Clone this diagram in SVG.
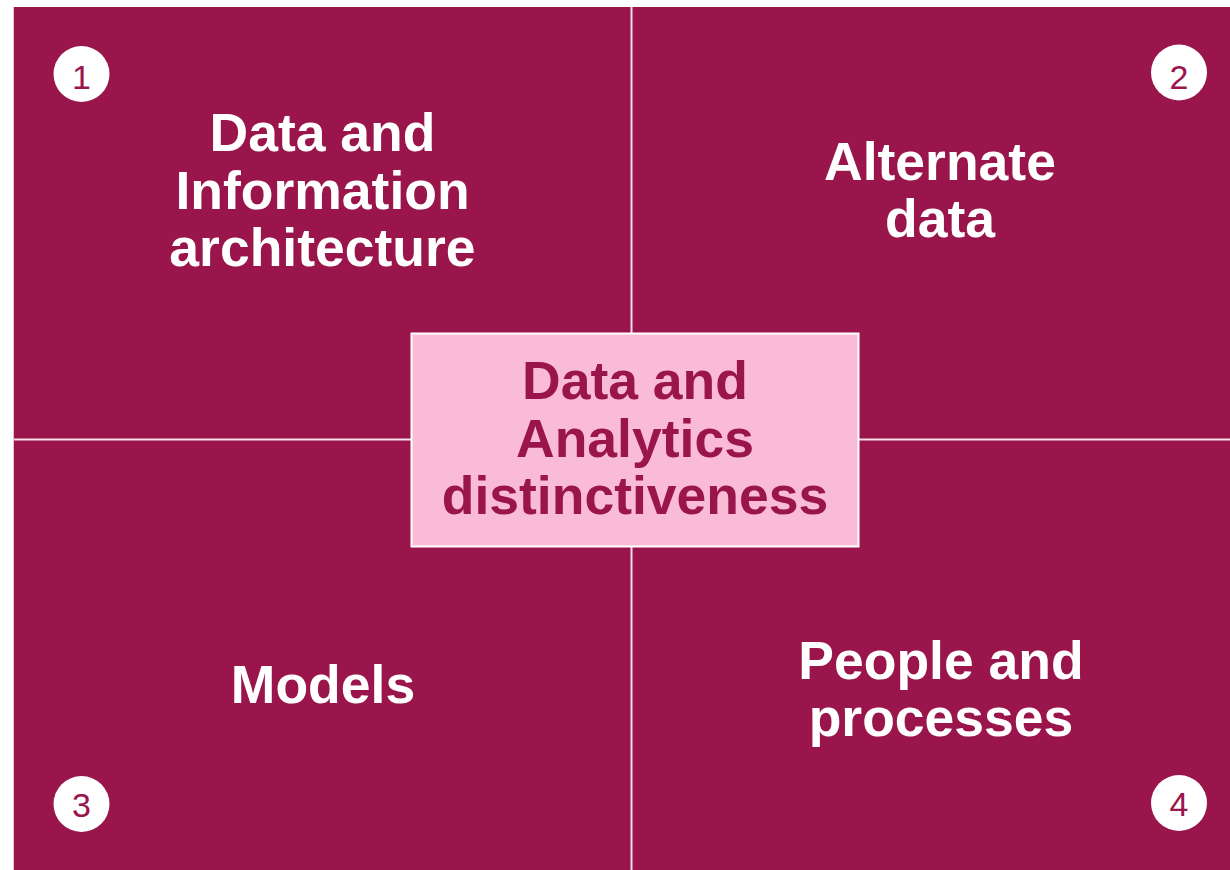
<svg xmlns="http://www.w3.org/2000/svg" width="1230" height="870" viewBox="0 0 1230 870">
  <style>
    .quad { fill: #99154B; }
    .div { stroke: #F6E0EA; stroke-width: 2; fill: none; }
    .title { font-family: "Liberation Sans", Arial, sans-serif; font-weight: bold; font-size: 53.5px; fill: #FFFFFF; text-anchor: middle; }
    .ctitle { font-family: "Liberation Sans", Arial, sans-serif; font-weight: bold; font-size: 53.5px; fill: #99154B; text-anchor: middle; }
    .badge circle { fill: #FFFFFF; }
    .badge text { font-family: "Liberation Sans", Arial, sans-serif; font-size: 34px; fill: #99154B; text-anchor: middle; }
  </style>
  <rect x="0" y="0" width="1230" height="870" fill="#FFFFFF"/>
  <g id="background">
    <rect class="quad" x="13" y="7" width="1217" height="863"/>
    <line x1="13.5" y1="7" x2="13.5" y2="870" stroke="#E6C3D2" stroke-width="1"/>
  </g>
  <g id="connectors">
    <line class="div" x1="631.5" y1="7" x2="631.5" y2="333"/>
    <line class="div" x1="631.5" y1="547" x2="631.5" y2="870"/>
    <line class="div" x1="14" y1="439.5" x2="411" y2="439.5"/>
    <line class="div" x1="859" y1="439.5" x2="1230" y2="439.5"/>
  </g>
  <g id="q1">
    <text class="title"><tspan x="322.5" y="151">Data and</tspan><tspan x="322.5" y="209">Information</tspan><tspan x="322.5" y="266">architecture</tspan></text>
    <g class="badge"><circle cx="81.5" cy="74" r="28"/><text x="81.5" y="89">1</text></g>
  </g>
  <g id="q2">
    <text class="title"><tspan x="940" y="180">Alternate</tspan><tspan x="940" y="237">data</tspan></text>
    <g class="badge"><circle cx="1179" cy="72.5" r="28"/><text x="1179" y="89">2</text></g>
  </g>
  <g id="q3">
    <text class="title" x="323" y="703">Models</text>
    <g class="badge"><circle cx="81.5" cy="804" r="28"/><text x="81.5" y="817">3</text></g>
  </g>
  <g id="q4">
    <text class="title"><tspan x="941" y="679">People and</tspan><tspan x="941" y="736">processes</tspan></text>
    <g class="badge"><circle cx="1179" cy="803" r="28"/><text x="1179" y="816">4</text></g>
  </g>
  <g id="center">
    <rect x="411.5" y="333.5" width="447" height="213" fill="#F9BBD6" stroke="#FFFFFF" stroke-width="2"/>
    <text class="ctitle"><tspan x="635" y="399">Data and</tspan><tspan x="635" y="457">Analytics</tspan><tspan x="635" y="514">distinctiveness</tspan></text>
  </g>
</svg>
